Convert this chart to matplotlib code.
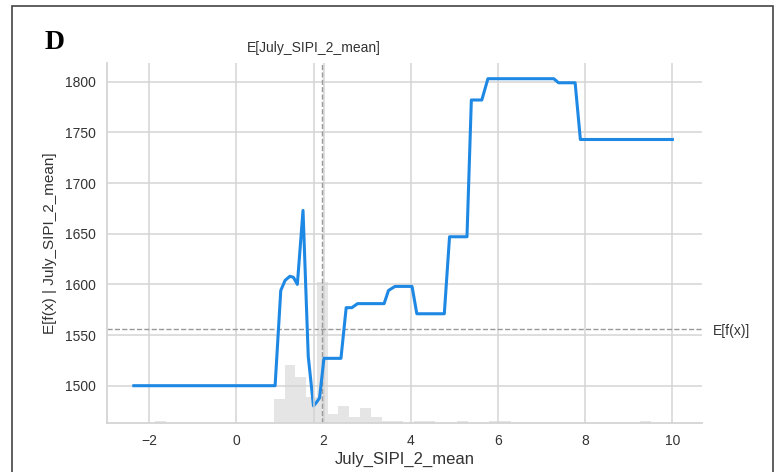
import numpy as np
import matplotlib
matplotlib.use('agg')
import matplotlib.pyplot as plt
from matplotlib.patches import Rectangle

plt.rcParams['font.family'] = ['Liberation Sans', 'DejaVu Sans']

feature = 'July_SIPI_2_mean'

# partial dependence curve (vertices)
pd_x = [-2.35, 0.89, 1.02, 1.12, 1.23, 1.31, 1.40, 1.53, 1.65, 1.77, 1.83, 1.91,
        2.01, 2.40, 2.52, 2.65, 2.78, 3.39, 3.49, 3.64, 4.03, 4.14, 4.77, 4.89,
        5.29, 5.39, 5.63, 5.77, 7.28, 7.39, 7.77, 7.89, 10.0]
pd_y = [1500, 1500, 1594, 1604, 1608, 1607, 1600, 1673, 1529, 1480, 1483, 1488,
        1527, 1527, 1577, 1577, 1581, 1581, 1594, 1598, 1598, 1571, 1571, 1647,
        1647, 1782, 1782, 1803, 1803, 1799, 1799, 1743, 1743]

# feature histogram, 50 bins over the data range
x_min, x_max = -2.35, 10.0
hist_counts = [0, 0, 1, 0, 0, 0, 0, 0, 0, 0,
               0, 0, 0, 13, 32, 25, 14, 78, 5, 9,
               3, 8, 3, 1, 1, 0, 1, 1, 0, 0,
               1, 0, 0, 1, 1, 0, 0, 0, 0, 0,
               0, 0, 0, 0, 0, 0, 0, 1, 0, 0]

x_mean = 1.96
x_mean_tick = 1.785
f_expected = 1555.5

fig = plt.figure(figsize=(7.79, 4.72), dpi=100)
ax = fig.add_axes([0.1374, 0.1045, 0.9012 - 0.1374, 0.8665 - 0.1045])

grid_c = '#d4d4d4'
text_c = '#333333'

ax.set_xlim(-2.964, 10.68)
ax.set_ylim(1463.5, 1818.5)
ax.set_xticks([-2, 0, 2, 4, 6, 8, 10])
ax.set_xticklabels(['\u22122', '0', '2', '4', '6', '8', '10'])
ax.set_yticks([1500, 1550, 1600, 1650, 1700, 1750, 1800])
ax.grid(True, color=grid_c, linewidth=1.1)
ax.set_axisbelow(True)
for s in ['top', 'right']:
    ax.spines[s].set_visible(False)
for s in ['left', 'bottom']:
    ax.spines[s].set_color(grid_c)
    ax.spines[s].set_linewidth(1.3)
ax.tick_params(length=0, labelsize=10, labelcolor=text_c, pad=8)
ax.set_xlabel(feature, fontsize=12, color=text_c, labelpad=3)
ax.set_ylabel('E[f(x) | ' + feature + ']', fontsize=11, color=text_c, labelpad=6)

# histogram on a twin axis
ax2 = ax.twinx()
edges = np.linspace(x_min, x_max, len(hist_counts) + 1)
ax2.bar(edges[:-1], hist_counts, width=np.diff(edges), align='edge',
        color='black', alpha=0.1, linewidth=0)
ax2.set_ylim(0, sum(hist_counts))
ax2.set_yticks([])
ax2.grid(False)
for s in ax2.spines.values():
    s.set_visible(False)

ax.set_zorder(ax2.get_zorder() + 1)
ax.patch.set_visible(False)

ax.axvline(x_mean, color='#999999', linestyle='--', linewidth=1, zorder=1)
ax.axhline(f_expected, color='#999999', linestyle='--', linewidth=1, zorder=1)
ax.plot(pd_x, pd_y, color='#1E88E5', linewidth=2.2, zorder=3)

# expected value labels
ax3 = ax.twiny()
ax3.set_xlim(ax.get_xlim())
ax3.set_xticks([x_mean_tick])
ax3.set_xticklabels(['E[' + feature + ']'])
ax3.tick_params(length=0, labelsize=10, labelcolor=text_c, pad=6)
ax3.grid(True, axis='x', color=grid_c, linewidth=1.1)
for s in ax3.spines.values():
    s.set_visible(False)

ax4 = ax.twinx()
ax4.set_ylim(ax.get_ylim())
ax4.set_yticks([f_expected])
ax4.set_yticklabels(['E[f(x)]'])
ax4.tick_params(length=0, labelsize=10, labelcolor=text_c, pad=8)
ax4.grid(False)
for s in ax4.spines.values():
    s.set_visible(False)

fig.text(45 / 779, 1 - 49.3 / 472, 'D', fontsize=20, fontweight='bold',
         family='Liberation Serif', va='baseline', ha='left')

fig.patches.append(Rectangle((12 / 779, -0.1), (773 - 12) / 779, 1.1 - 6 / 472,
                             transform=fig.transFigure, fill=False,
                             edgecolor='#444444', linewidth=1.2))

fig.savefig('out.png', dpi=100)
